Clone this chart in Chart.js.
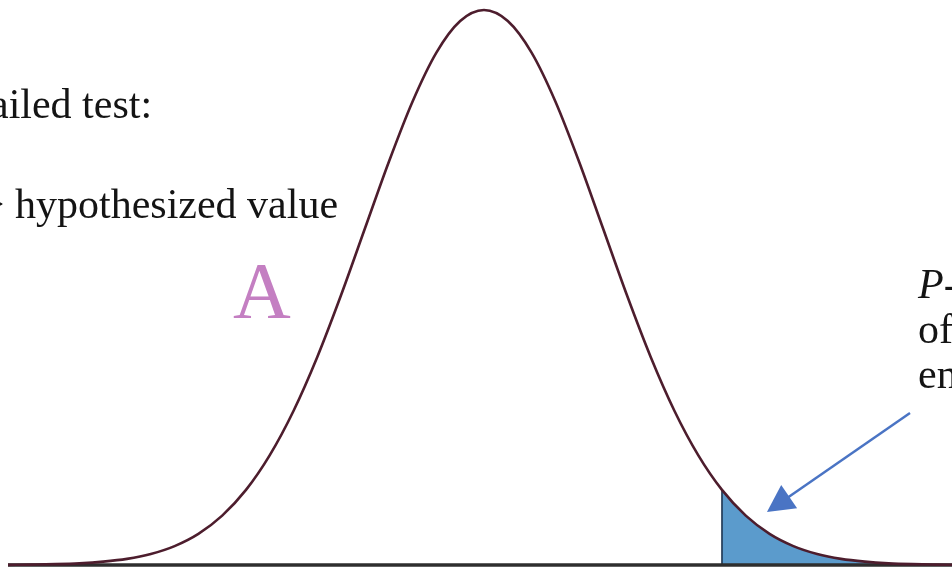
<!DOCTYPE html>
<html><head><meta charset="utf-8">
<script src="https://cdn.jsdelivr.net/npm/chart.js@4"></script>
<style>html,body{margin:0;padding:0;background:#fff;overflow:hidden}canvas{display:block}</style>
</head><body>
<canvas id="c" width="952" height="570"></canvas>
<script>
// z-values (standard units) and curve heights
const zValues = [-4.0,-3.8,-3.6,-3.4,-3.2,-3.0,-2.8,-2.6,-2.4,-2.2,-2.0,-1.8,-1.6,-1.4,-1.2,-1.0,-0.8,-0.6,-0.4,-0.2,0.0,
                 0.2,0.4,0.6,0.8,1.0,1.2,1.4,1.6,1.8,2.0,2.2,2.4,2.6,2.8,3.0,3.2,3.4,3.6,3.8,4.0];
const density = [0.0001,0.0003,0.0006,0.0012,0.0024,0.0044,0.0079,0.0136,0.0224,0.0355,0.0540,0.0790,0.1109,0.1497,0.1942,0.2420,0.2897,0.3332,0.3683,0.3910,0.3989,
                 0.3910,0.3683,0.3332,0.2897,0.2420,0.1942,0.1497,0.1109,0.0790,0.0540,0.0355,0.0224,0.0136,0.0079,0.0044,0.0024,0.0012,0.0006,0.0003,0.0001];
// shaded right tail (P-value area)
const tailZ = [2.0,2.2,2.4,2.6,2.8,3.0,3.2,3.4,3.6,3.8,4.0];
const tailDensity = [0.0540,0.0355,0.0224,0.0136,0.0079,0.0044,0.0024,0.0012,0.0006,0.0003,0.0001];
const cutZ = 2.0;
const cutHeight = 0.0540;
// arrow (data units)
const arrowFrom = {x: 3.58, y: 0.1093};
const arrowTo = {x: 2.378, y: 0.0381};
// texts
const textLine1 = "ailed test:";
const textLine2 = "> hypothesized value";
const bigLabel = "A";
const rightItalic = "P";
const rightLines = ["-", "of", "en"];

const curveData = zValues.map((z,i)=>({x:z,y:density[i]}));
const tailData = tailZ.map((z,i)=>({x:z,y:tailDensity[i]}));
const baseData = [{x:zValues[0],y:0},{x:zValues[zValues.length-1],y:0}];
const edgeData = [{x:cutZ,y:0},{x:cutZ,y:cutHeight}];

const arrowPlugin = {
  id:'arrow',
  afterDatasetsDraw(chart){
    const {ctx, scales:{x,y}} = chart;
    const x1=x.getPixelForValue(arrowFrom.x), y1=y.getPixelForValue(arrowFrom.y);
    const x2=x.getPixelForValue(arrowTo.x), y2=y.getPixelForValue(arrowTo.y);
    const dx=x2-x1, dy=y2-y1, L=Math.hypot(dx,dy), ux=dx/L, uy=dy/L;
    const hl=27, hw=14;
    const bx=x2-ux*hl, by=y2-uy*hl;
    ctx.save();
    ctx.strokeStyle='#4a74c4'; ctx.fillStyle='#4a74c4'; ctx.lineWidth=2.5;
    ctx.beginPath(); ctx.moveTo(x1,y1); ctx.lineTo(bx+ux*2,by+uy*2); ctx.stroke();
    ctx.beginPath(); ctx.moveTo(x2,y2);
    ctx.lineTo(bx-uy*hw, by+ux*hw); ctx.lineTo(bx+uy*hw, by-ux*hw); ctx.closePath(); ctx.fill();
    ctx.restore();
  }
};
const textPlugin = {
  id:'texts',
  afterDraw(chart){
    const ctx=chart.ctx;
    ctx.save();
    ctx.textBaseline='alphabetic'; ctx.textAlign='left';
    ctx.fillStyle='#141414';
    ctx.font='42px "Liberation Serif", "Times New Roman", serif';
    ctx.fillText(textLine1, -10, 118);
    const pre = ctx.measureText("> ").width;
    ctx.fillText(textLine2, 15-pre, 218);
    ctx.font='italic 42px "Liberation Serif", "Times New Roman", serif';
    ctx.fillText(rightItalic, 918, 298);
    const pw = ctx.measureText(rightItalic).width;
    ctx.font='42px "Liberation Serif", "Times New Roman", serif';
    ctx.fillText(rightLines[0], 918+pw, 298);
    ctx.fillText(rightLines[1], 918, 343);
    ctx.fillText(rightLines[2], 918, 388);
    ctx.fillStyle='#c47fc2';
    ctx.font='80px "Liberation Serif", "Times New Roman", serif';
    ctx.fillText(bigLabel, 233, 318);
    ctx.restore();
  }
};

new Chart(document.getElementById('c'), {
  type:'line',
  data:{datasets:[
    {data:curveData, borderColor:'#4d1d2d', borderWidth:2.6, pointRadius:0, fill:false, cubicInterpolationMode:'monotone', order:0, clip:false},
    {data:baseData, borderColor:'#2e2e2e', borderWidth:3.5, pointRadius:0, fill:false, order:1, clip:false},
    {data:edgeData, borderColor:'#1d3450', borderWidth:1.6, pointRadius:0, fill:false, order:2},
    {data:tailData, borderWidth:0, borderColor:'rgba(0,0,0,0)', backgroundColor:'#5b9bcc', pointRadius:0, fill:'origin', cubicInterpolationMode:'monotone', order:3}
  ]},
  options:{
    responsive:false, animation:false, events:[],
    layout:{padding:{left:8,right:0,top:0,bottom:5}},
    scales:{
      x:{type:'linear', min:-4, max:3.933, display:false},
      y:{min:0, max:0.4061, display:false}
    },
    plugins:{legend:{display:false}, tooltip:{enabled:false}}
  },
  plugins:[arrowPlugin, textPlugin]
});
</script>
</body></html>
